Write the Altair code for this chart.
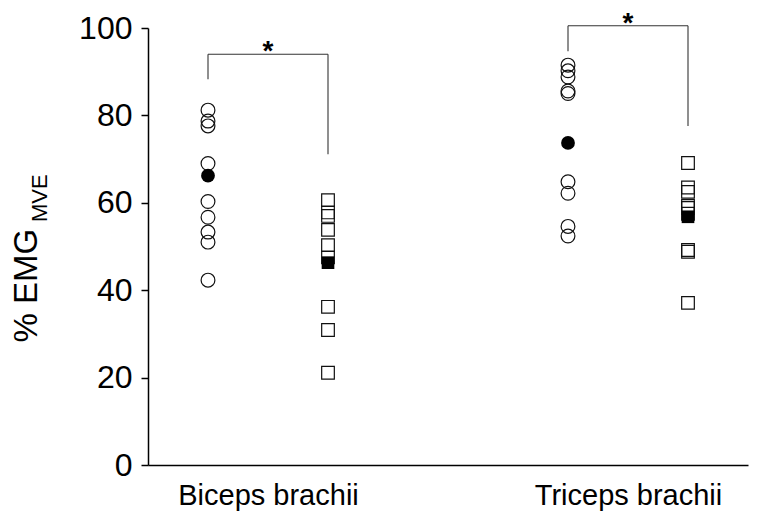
import altair as alt
import pandas as pd

# ---- data ----
groups = ["Biceps brachii", "Triceps brachii"]
group_centers = [2, 8]
# column positions: circle condition / square condition per muscle
circle_cols = [1, 7]
square_cols = [3, 9]

biceps_circles = [81.2, 78.7, 77.6, 69.0, 60.3, 56.7, 53.3, 51.0, 42.3]
biceps_circle_mean = 66.2
biceps_squares = [60.6, 57.8, 57.0, 53.8, 50.3, 47.5, 36.2, 30.9, 21.1]
biceps_square_mean = 46.3

triceps_circles = [91.5, 90.2, 88.8, 85.6, 85.0, 64.8, 62.2, 54.6, 52.4]
triceps_circle_mean = 73.7
triceps_squares = [69.1, 63.5, 62.5, 59.3, 58.8, 57.5, 49.2, 48.8, 37.1]
triceps_square_mean = 56.8

# significance brackets
bracket_left = [1, 7]
bracket_right = [3, 9]
bracket_top = [94.0, 100.5]
bracket_left_end = [88.3, 94.7]
bracket_right_end = [71.1, 77.6]
bracket_label = ["*", "*"]

y_ticks = [0, 20, 40, 60, 80, 100]

# ---- tables ----
rows = []
for col, vals in zip(circle_cols, [biceps_circles, triceps_circles]):
    rows += [{"x": col, "y": v, "kind": "circle"} for v in vals]
for col, vals in zip(square_cols, [biceps_squares, triceps_squares]):
    rows += [{"x": col, "y": v, "kind": "square"} for v in vals]
pts = pd.DataFrame(rows)

means = pd.DataFrame(
    [{"x": circle_cols[0], "y": biceps_circle_mean, "kind": "circle"},
     {"x": circle_cols[1], "y": triceps_circle_mean, "kind": "circle"},
     {"x": square_cols[0], "y": biceps_square_mean, "kind": "square"},
     {"x": square_cols[1], "y": triceps_square_mean, "kind": "square"}]
)

br = pd.DataFrame({
    "l": bracket_left, "r": bracket_right, "top": bracket_top,
    "le": bracket_left_end, "re": bracket_right_end,
    "mid": [(a + b) / 2 for a, b in zip(bracket_left, bracket_right)],
    "lab": bracket_label,
})

label_expr = " : ".join(
    [f"datum.value == {c} ? '{g}'" for c, g in zip(group_centers[:-1], groups[:-1])]
    + [f"'{groups[-1]}'"]
)

FONT = "Liberation Sans"

x_scale = alt.Scale(domain=[0, 10], nice=False, zero=False)
y_scale = alt.Scale(domain=[0, 100], nice=False)

x_axis = alt.Axis(values=group_centers, labelExpr=label_expr, ticks=False, tickSize=0,
                  grid=False, title=None, labelFontSize=29, labelPadding=16,
                  labelColor="black", labelFont=FONT, domainColor="black",
                  domainWidth=1.5, labelAngle=0, labelLimit=0)
y_axis = alt.Axis(values=y_ticks, grid=False, tickSize=7, tickWidth=1.5,
                  tickColor="black", domainColor="black", domainWidth=1.5,
                  labelFontSize=32, labelFont=FONT, labelColor="black",
                  labelPadding=9, title="% EMG", titleFont=FONT, titleFontSize=33,
                  titleFontWeight="normal", titleColor="black", titleAngle=270,
                  titleX=-112, titleY=342 - 28, titleAlign="left",
                  titleBaseline="alphabetic")

base = alt.Chart(pts)

open_circles = base.transform_filter(alt.datum.kind == "circle").mark_point(
    shape="circle", filled=False, size=190, stroke="#111", strokeWidth=1.2, opacity=1
).encode(x=alt.X("x:Q", scale=x_scale, axis=x_axis),
         y=alt.Y("y:Q", scale=y_scale, axis=y_axis))

open_squares = base.transform_filter(alt.datum.kind == "square").mark_point(
    shape="square", filled=False, size=160, stroke="#111", strokeWidth=1.2, opacity=1
).encode(x=alt.X("x:Q", scale=x_scale), y=alt.Y("y:Q", scale=y_scale))

mean_circles = alt.Chart(means).transform_filter(alt.datum.kind == "circle").mark_point(
    shape="circle", filled=True, size=190, color="black", opacity=1
).encode(x=alt.X("x:Q", scale=x_scale), y=alt.Y("y:Q", scale=y_scale))

mean_squares = alt.Chart(means).transform_filter(alt.datum.kind == "square").mark_point(
    shape="square", filled=True, size=160, color="black", opacity=1
).encode(x=alt.X("x:Q", scale=x_scale), y=alt.Y("y:Q", scale=y_scale))

bc = alt.Chart(br)
RULE = dict(color="#333", strokeWidth=1.1, clip=False)
h_rule = bc.mark_rule(**RULE).encode(
    x=alt.X("l:Q", scale=x_scale), x2="r:Q", y=alt.Y("top:Q", scale=y_scale))
l_rule = bc.mark_rule(**RULE).encode(
    x=alt.X("l:Q", scale=x_scale), y=alt.Y("le:Q", scale=y_scale), y2="top:Q")
r_rule = bc.mark_rule(**RULE).encode(
    x=alt.X("r:Q", scale=x_scale), y=alt.Y("re:Q", scale=y_scale), y2="top:Q")
stars = bc.mark_text(font=FONT, fontSize=28, fontWeight="bold", color="black",
                     baseline="alphabetic", align="center", dy=6).encode(
    x=alt.X("mid:Q", scale=x_scale), y=alt.Y("top:Q", scale=y_scale), text="lab:N")

sub = alt.Chart(pd.DataFrame({"t": ["MVE"]})).mark_text(
    font=FONT, fontSize=22, color="black", angle=270, align="left",
    baseline="alphabetic").encode(x=alt.value(-101), y=alt.value(194), text="t:N")

chart = alt.layer(
    h_rule, l_rule, r_rule, stars, open_circles, open_squares,
    mean_circles, mean_squares, sub
).properties(
    width=600, height=437,
    background="white",
    autosize=alt.AutoSizeParams(type="none"),
    padding={"left": 140, "top": 20, "right": 2, "bottom": 48},
).configure_view(stroke=None, strokeWidth=0)

chart.save("out.html", embed_options={"renderer": "svg", "actions": False})
